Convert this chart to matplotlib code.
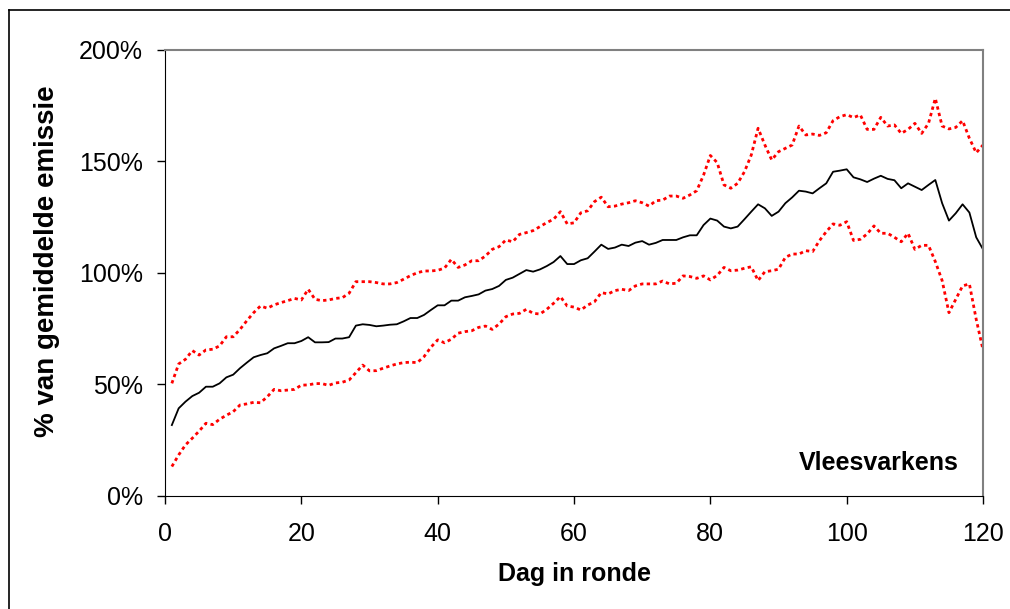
import numpy as np
import matplotlib
matplotlib.use('Agg')
import matplotlib.pyplot as plt
from matplotlib.lines import Line2D
from matplotlib.ticker import FuncFormatter

plt.rcParams['font.family'] = ['Liberation Sans', 'DejaVu Sans']

# Dagen in de ronde
dagen = np.arange(1, 121)

# Gemiddelde emissie (% van gemiddelde), zwarte lijn
gemiddeld = [31.8, 39.3, 42.3, 44.8, 46.3, 49.0, 49.0, 50.5, 53.2, 54.4,
             57.3, 59.8, 62.2, 63.2, 64.0, 66.2, 67.3, 68.5, 68.5, 69.5,
             71.2, 68.9, 68.9, 69.0, 70.6, 70.6, 71.2, 76.4, 77.0, 76.7,
             76.1, 76.4, 76.8, 77.0, 78.3, 79.8, 79.8, 81.2, 83.4, 85.5,
             85.5, 87.6, 87.6, 89.1, 89.7, 90.4, 92.1, 92.8, 94.2, 96.9,
             97.9, 99.6, 101.3, 100.6, 101.6, 103.1, 104.9, 107.6, 104.0, 104.0,
             105.7, 106.6, 109.6, 112.7, 110.8, 111.4, 112.7, 112.1, 113.6, 114.3,
             112.7, 113.5, 114.8, 114.8, 114.8, 116.0, 116.9, 116.9, 121.5, 124.4,
             123.5, 120.8, 120.0, 120.8, 124.1, 127.5, 130.8, 129.0, 125.6, 127.5,
             131.3, 133.9, 136.9, 136.5, 135.7, 138.0, 140.2, 145.4, 145.9, 146.5,
             142.9, 142.0, 140.8, 142.3, 143.6, 142.2, 141.6, 138.0, 140.2, 138.7,
             137.2, 139.5, 141.7, 131.3, 123.5, 126.8, 130.8, 127.1, 116.0, 110.6]

# Bovengrens (rood gestippeld)
boven = [50.5, 59.2, 61.3, 65.2, 63.2, 65.5, 65.8, 67.3, 71.4, 71.4,
         74.7, 78.6, 82.2, 85.2, 84.2, 85.7, 86.7, 87.6, 88.6, 87.9,
         92.7, 88.2, 87.6, 87.9, 88.6, 88.9, 90.9, 96.1, 96.1, 96.1,
         95.7, 95.1, 95.1, 95.7, 97.2, 98.8, 100.1, 100.9, 100.9, 101.2,
         102.2, 106.1, 102.5, 103.6, 105.5, 105.5, 107.6, 110.6, 111.8, 114.8,
         114.0, 117.3, 118.1, 119.0, 120.8, 122.6, 124.1, 127.5, 122.0, 122.5,
         127.0, 127.9, 132.0, 134.0, 129.7, 130.0, 130.9, 131.5, 132.4, 131.5,
         130.0, 132.4, 132.7, 134.5, 134.5, 133.5, 135.0, 136.9, 143.9, 152.7,
         149.5, 139.5, 138.0, 140.2, 145.4, 152.9, 164.9, 157.4, 150.7, 154.4,
         155.9, 157.4, 165.9, 161.9, 162.3, 161.7, 162.9, 168.3, 170.1, 171.0,
         169.7, 170.9, 164.4, 164.4, 169.8, 165.9, 166.4, 162.6, 164.4, 167.1,
         162.6, 167.1, 178.3, 165.9, 164.6, 165.3, 168.3, 160.4, 153.9, 157.4]

# Ondergrens (rood gestippeld)
onder = [13.2, 18.4, 22.9, 25.9, 29.1, 32.6, 32.0, 34.4, 36.2, 37.8,
         40.8, 41.3, 42.0, 41.8, 44.5, 47.8, 47.2, 47.5, 47.8, 49.7,
         49.8, 50.4, 50.4, 49.6, 50.7, 51.0, 52.0, 55.3, 58.7, 56.1,
         56.2, 57.3, 58.3, 59.2, 59.8, 60.0, 59.8, 62.5, 66.7, 70.0,
         68.7, 70.3, 73.0, 73.7, 74.1, 75.6, 76.2, 74.7, 77.1, 80.4,
         81.6, 81.9, 83.7, 81.9, 81.6, 83.7, 86.4, 89.4, 85.2, 84.7,
         83.4, 85.6, 87.1, 91.2, 90.6, 92.1, 92.7, 92.1, 94.2, 95.1,
         95.1, 95.1, 96.4, 95.1, 95.4, 98.7, 98.4, 97.6, 98.7, 96.9,
         98.9, 102.5, 101.0, 101.3, 102.1, 102.8, 96.6, 100.6, 101.0, 101.7,
         107.0, 108.5, 108.5, 110.0, 109.6, 114.5, 118.5, 122.0, 121.4, 123.0,
         114.6, 115.1, 117.5, 121.1, 117.8, 117.8, 116.0, 114.0, 117.8, 110.6,
         112.4, 112.4, 105.1, 96.6, 82.2, 88.2, 94.2, 95.1, 79.2, 65.5]

x_ticks = [0, 20, 40, 60, 80, 100, 120]
y_ticks = [0, 50, 100, 150, 200]


def main():
    fig = plt.figure(figsize=(10.1, 6.09), dpi=100)
    ax = fig.add_axes([0.1634, 0.1856, 0.8099, 0.7323])

    # rand rond de figuur: alleen boven en links zichtbaar
    x0 = 9 / 1010
    y0 = 1 - 10 / 609
    fig.add_artist(Line2D([x0, 1.05], [y0, y0], transform=fig.transFigure,
                          color='black', linewidth=1.2))
    fig.add_artist(Line2D([x0, x0], [-0.05, y0], transform=fig.transFigure,
                          color='black', linewidth=1.2))

    rood = (0, (1.2, 1.2))
    ax.plot(dagen, boven, color='red', linewidth=2, linestyle=rood)
    ax.plot(dagen, onder, color='red', linewidth=2, linestyle=rood)
    ax.plot(dagen, gemiddeld, color='black', linewidth=1.3)

    ax.set_xlim(0, 120)
    ax.set_ylim(0, 200)
    ax.set_xticks(x_ticks)
    ax.set_yticks(y_ticks)
    ax.yaxis.set_major_formatter(FuncFormatter(lambda v, p: f'{v:.0f}%'))
    ax.tick_params(direction='out', length=6, width=1, labelsize=18)
    ax.tick_params(axis='y', pad=10)
    ax.tick_params(axis='x', pad=13)

    ax.spines['top'].set_color('#808080')
    ax.spines['right'].set_color('#808080')
    ax.spines['top'].set_linewidth(1.5)
    ax.spines['right'].set_linewidth(1.5)

    ax.set_xlabel('Dag in ronde', fontsize=18, fontweight='bold')
    ax.set_ylabel('% van gemiddelde emissie', fontsize=20, fontweight='bold')
    ax.xaxis.set_label_coords(0.5, -0.148)
    ax.yaxis.set_label_coords(-0.128, 0.527)

    ax.text(116.5, 15, 'Vleesvarkens', fontsize=18, fontweight='bold',
            ha='right', va='center')

    fig.savefig('out.png', dpi=100)


if __name__ == '__main__':
    main()
